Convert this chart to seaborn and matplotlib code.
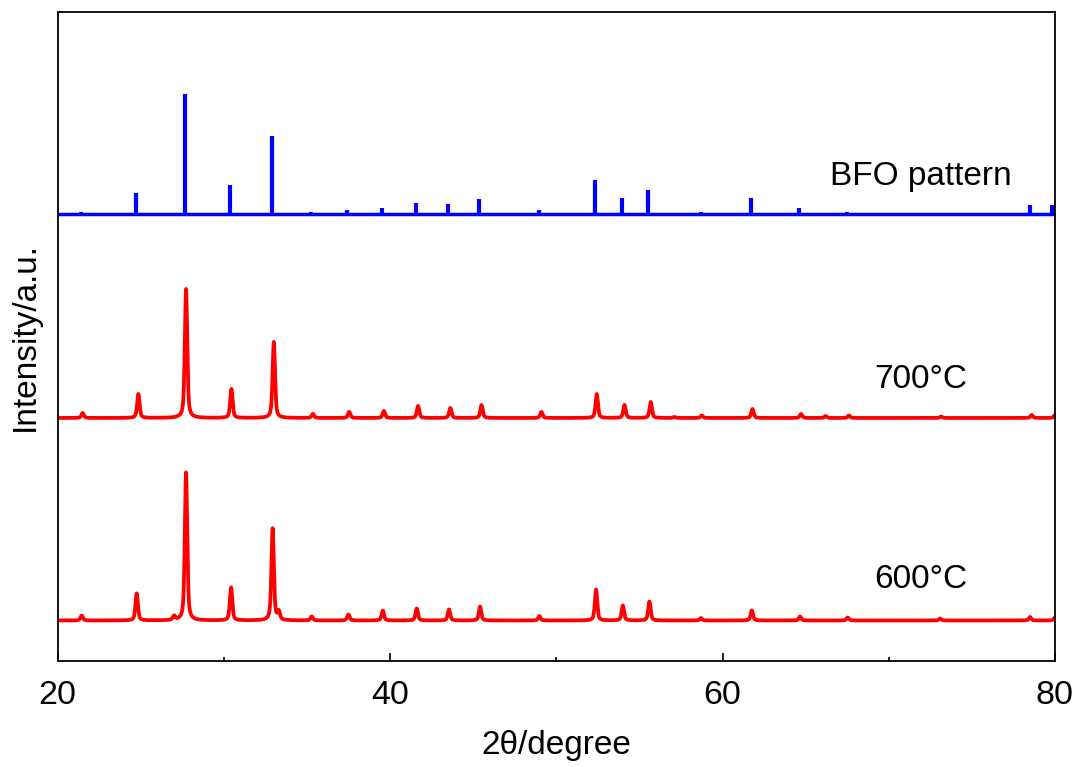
import numpy as np
import pandas as pd
import matplotlib
matplotlib.use("Agg")
import matplotlib.pyplot as plt
import seaborn as sns

# Reference stick pattern (2θ in degrees, relative intensity)
ref_two_theta = [21.38, 24.73, 27.68, 30.39, 32.89, 35.24, 37.43, 39.54, 41.56,
                 43.47, 45.34, 48.93, 50.65, 52.30, 53.97, 55.54, 57.12, 58.69,
                 60.24, 61.71, 63.18, 64.62, 66.07, 67.51, 68.92, 73.09, 74.49,
                 75.86, 78.50, 79.85]
ref_intensity = [2, 21, 120, 29, 78, 2, 4, 6, 11,
                 10, 15, 4, 1, 34, 16, 24, 1.5, 2,
                 1, 16, 1, 6, 1, 2, 1, 1, 1,
                 1, 9, 9]

# Fitted reflections of the sample calcined at 700 °C
peaks_700 = [21.50, 24.85, 27.72, 30.45, 33.00, 35.35, 37.53, 39.62, 41.68,
             43.62, 45.50, 49.10, 52.43, 54.10, 55.68, 57.10, 58.75, 61.80,
             64.72, 66.20, 67.60, 73.15, 78.60, 80.00]
heights_700 = [5, 24, 129, 29, 76, 4, 6, 7, 12,
               10, 13, 6, 24, 13, 16, 1, 2.5, 9,
               4, 2, 2.5, 1.5, 3, 3]

# Fitted reflections of the sample calcined at 600 °C
peaks_600 = [21.44, 24.75, 27.00, 27.72, 30.43, 32.93, 33.30, 35.28, 37.49,
             39.56, 41.60, 43.54, 45.41, 48.98, 52.39, 54.00, 55.60, 58.70,
             61.76, 64.66, 67.53, 73.09, 78.50, 80.00]
heights_600 = [5, 27, 4, 148, 33, 92, 8, 4, 6,
               10, 12, 11, 14, 4.5, 31, 15, 19, 2.5,
               10, 4, 3, 2, 3.5, 3]

sample_labels = ["600°C", "700°C"]
pattern_label = "BFO pattern"

# vertical stacking of the patterns
offsets = {"600°C": 0.0, "700°C": 202.5}
ref_offset = 406.0


def pseudo_voigt(x, centers, heights, fwhm=0.17, eta=0.55):
    y = np.zeros_like(x)
    hw = fwhm / 2.0
    for c, h in zip(centers, heights):
        d = (x - c) / hw
        y += h * (eta / (1.0 + d ** 2) + (1.0 - eta) * np.exp(-np.log(2) * d ** 2))
    return y


two_theta = np.round(np.arange(20.0, 80.0001, 0.01), 2)
frames = []
for label, pk, ht in [("600°C", peaks_600, heights_600),
                      ("700°C", peaks_700, heights_700)]:
    frames.append(pd.DataFrame({
        "two_theta": two_theta,
        "intensity": pseudo_voigt(two_theta, pk, ht) + offsets[label],
        "sample": label,
    }))
df = pd.concat(frames, ignore_index=True)

sns.set_theme(style="ticks")
plt.rcParams["font.family"] = ["Liberation Sans", "DejaVu Sans"]
plt.rcParams["text.color"] = "black"
plt.rcParams["axes.labelcolor"] = "black"
plt.rcParams["xtick.color"] = "black"

fig = plt.figure(figsize=(10.83, 7.67), dpi=100)
ax = fig.add_axes([0.0533, 0.1382, 0.9208, 0.8462])

sns.lineplot(data=df, x="two_theta", y="intensity", hue="sample",
             palette={"600°C": "#ff0000", "700°C": "#ff0000"},
             estimator=None, sort=False, legend=False, linewidth=2.7, ax=ax)

# stick pattern
ax.hlines(ref_offset, 20, 80, color="#0000ff", linewidth=2.5)
ax.vlines(ref_two_theta, ref_offset,
          ref_offset + np.asarray(ref_intensity), color="#0000ff", linewidth=3)

ax.set_xlim(20, 80)
ax.set_ylim(-40.5, 608.5)
ax.set_xticks([20, 40, 60, 80])
ax.set_xticks([30, 50, 70], minor=True)
ax.set_yticks([])
ax.tick_params(axis="x", which="major", direction="in", length=6, width=1.2,
               labelsize=24.5, pad=14, colors="black")
ax.tick_params(axis="x", which="minor", direction="in", length=3, width=1.2)
for s in ax.spines.values():
    s.set_linewidth(1.3)
    s.set_color("black")

ax.set_xlabel("2θ/degree", fontsize=24, labelpad=13, color="black")
ax.set_ylabel("Intensity/a.u.", fontsize=24, labelpad=12, color="black")

ax.text(71.94, 443.5, pattern_label, fontsize=24, ha="center", va="center", color="black")
ax.text(71.94, 240.5, sample_labels[1], fontsize=24, ha="center", va="center", color="black")
ax.text(71.94, 40.5, sample_labels[0], fontsize=24, ha="center", va="center", color="black")

fig.savefig("out.png", dpi=100)
